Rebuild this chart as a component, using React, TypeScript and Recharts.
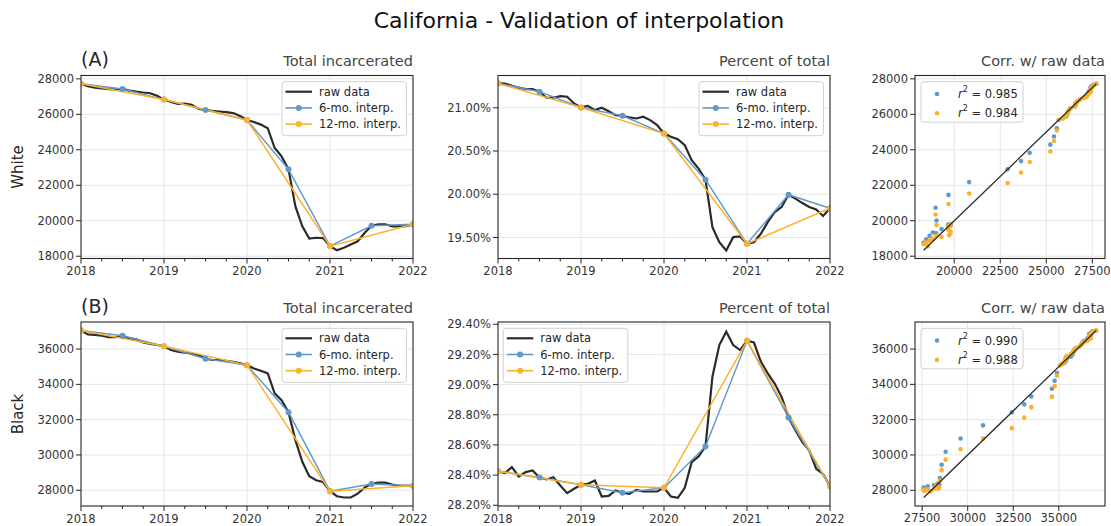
import React from 'react';
import { LineChart, Line, XAxis, YAxis, CartesianGrid, ComposedChart, Scatter } from 'recharts';

const FIG_W = 1111;
const FIG_H = 526;
const YW = 40;
const XH = 10;

const RAW_COLOR = '#2b2b2b';
const C6 = '#6399c9';
const C12 = '#fcb02b';
const FRAME = '#262626';
const GRID = '#e6e6e6';
const TICK_TEXT = '#333333';

// ---------- categories / tick labels ----------
const monthLabels = [
  '2018-01', '2018-02', '2018-03', '2018-04', '2018-05', '2018-06', '2018-07', '2018-08', '2018-09', '2018-10', '2018-11', '2018-12',
  '2019-01', '2019-02', '2019-03', '2019-04', '2019-05', '2019-06', '2019-07', '2019-08', '2019-09', '2019-10', '2019-11', '2019-12',
  '2020-01', '2020-02', '2020-03', '2020-04', '2020-05', '2020-06', '2020-07', '2020-08', '2020-09', '2020-10', '2020-11', '2020-12',
  '2021-01', '2021-02', '2021-03', '2021-04', '2021-05', '2021-06', '2021-07', '2021-08', '2021-09', '2021-10', '2021-11', '2021-12',
  '2022-01',
];
const halfYearLabels = ['2018-01', '2018-07', '2019-01', '2019-07', '2020-01', '2020-07', '2021-01', '2021-07', '2022-01'];
const yearLabels = ['2018-01', '2019-01', '2020-01', '2021-01', '2022-01'];

const timeTicks = [2018, 2018.25, 2018.5, 2018.75, 2019, 2019.25, 2019.5, 2019.75, 2020, 2020.25, 2020.5, 2020.75, 2021, 2021.25, 2021.5, 2021.75, 2022];
const yearGrid = [2019, 2020, 2021];

const whiteTotalTicks = [18000, 20000, 22000, 24000, 26000, 28000];
const whitePctTicks = [19.5, 20.0, 20.5, 21.0];
const whiteCorrXTicks = [20000, 22500, 25000, 27500];
const blackTotalTicks = [28000, 30000, 32000, 34000, 36000];
const blackPctTicks = [28.2, 28.4, 28.6, 28.8, 29.0, 29.2, 29.4];
const blackCorrXTicks = [27500, 30000, 32500, 35000];

// ---------- White: total incarcerated ----------
const whiteRaw = [
  27720, 27580, 27510, 27460, 27420, 27400, 27430, 27340, 27280, 27230, 27190, 27050,
  26830, 26700, 26590, 26600, 26540, 26310, 26240, 26190, 26160, 26120, 26070, 25900,
  25680, 25570, 25420, 25220, 24100, 23630, 22900, 20810, 19690, 18990, 19040, 19020,
  18570, 18340, 18480, 18660, 18840, 19310, 19720, 19790, 19800, 19680, 19680, 19700,
  19800,
];
const white6 = [27720, 27430, 26830, 26240, 25680, 22900, 18570, 19720, 19800];
const white12 = [27720, 26830, 25680, 18570, 19800];
const whiteInterp6 = [
  27720, 27672, 27623, 27575, 27527, 27478, 27430, 27330, 27230, 27130, 27030, 26930,
  26830, 26732, 26633, 26535, 26437, 26338, 26240, 26147, 26053, 25960, 25867, 25773,
  25680, 25217, 24753, 24290, 23827, 23363, 22900, 22178, 21457, 20735, 20013, 19292,
  18570, 18762, 18953, 19145, 19337, 19528, 19720, 19733, 19747, 19760, 19773, 19787,
  19800,
];
const whiteInterp12 = [
  27720, 27646, 27572, 27498, 27423, 27349, 27275, 27201, 27127, 27053, 26978, 26904,
  26830, 26734, 26638, 26543, 26447, 26351, 26255, 26159, 26063, 25968, 25872, 25776,
  25680, 25088, 24495, 23903, 23310, 22718, 22125, 21533, 20940, 20348, 19755, 19163,
  18570, 18673, 18775, 18878, 18980, 19083, 19185, 19288, 19390, 19493, 19595, 19698,
  19800,
];
const whiteFitEnds = [18340, 27720];

// ---------- White: percent of total ----------
const whitePctRaw = [
  21.282, 21.280, 21.255, 21.232, 21.216, 21.216, 21.186, 21.116, 21.116, 21.135, 21.128, 21.050,
  21.004, 21.020, 20.973, 21.000, 20.960, 20.915, 20.908, 20.888, 20.876, 20.896, 20.857, 20.800,
  20.702, 20.664, 20.636, 20.567, 20.393, 20.296, 20.169, 19.620, 19.446, 19.350, 19.504, 19.512,
  19.427, 19.446, 19.543, 19.678, 19.794, 19.852, 19.995, 19.949, 19.898, 19.852, 19.825, 19.748,
  19.838,
];
const whitePct6 = [21.282, 21.186, 21.004, 20.908, 20.702, 20.169, 19.427, 19.995, 19.838];
const whitePct12 = [21.282, 21.004, 20.702, 19.427, 19.838];

// ---------- Black: total incarcerated ----------
const blackRaw = [
  37050, 36830, 36800, 36760, 36670, 36670, 36750, 36610, 36550, 36380, 36290, 36230,
  36160, 35950, 35850, 35790, 35750, 35660, 35450, 35380, 35380, 35340, 35280, 35190,
  35090, 34900, 34770, 34620, 33490, 33100, 32420, 30840, 29610, 28790, 28570, 28470,
  27950, 27660, 27590, 27590, 27810, 28150, 28360, 28430, 28430, 28320, 28250, 28250,
  28260,
];
const black6 = [37050, 36750, 36160, 35450, 35090, 32420, 27950, 28360, 28260];
const black12 = [37050, 36160, 35090, 27950, 28260];
const blackInterp6 = [
  37050, 37000, 36950, 36900, 36850, 36800, 36750, 36652, 36553, 36455, 36357, 36258,
  36160, 36042, 35923, 35805, 35687, 35568, 35450, 35390, 35330, 35270, 35210, 35150,
  35090, 34645, 34200, 33755, 33310, 32865, 32420, 31675, 30930, 30185, 29440, 28695,
  27950, 28018, 28087, 28155, 28223, 28292, 28360, 28343, 28327, 28310, 28293, 28277,
  28260,
];
const blackInterp12 = [
  37050, 36976, 36902, 36828, 36753, 36679, 36605, 36531, 36457, 36383, 36308, 36234,
  36160, 36071, 35982, 35893, 35803, 35714, 35625, 35536, 35447, 35358, 35268, 35179,
  35090, 34495, 33900, 33305, 32710, 32115, 31520, 30925, 30330, 29735, 29140, 28545,
  27950, 27976, 28002, 28028, 28053, 28079, 28105, 28131, 28157, 28183, 28208, 28234,
  28260,
];
const blackFitEnds = [27590, 37050];

// ---------- Black: percent of total ----------
const blackPctRaw = [
  28.426, 28.413, 28.453, 28.391, 28.420, 28.431, 28.384, 28.371, 28.386, 28.331, 28.280, 28.309,
  28.336, 28.342, 28.364, 28.258, 28.262, 28.298, 28.283, 28.275, 28.302, 28.291, 28.291, 28.291,
  28.316, 28.258, 28.249, 28.315, 28.486, 28.524, 28.590, 29.052, 29.262, 29.351, 29.262, 29.229,
  29.291, 29.280, 29.152, 29.074, 29.007, 28.919, 28.782, 28.697, 28.619, 28.564, 28.442, 28.408,
  28.326,
];
const blackPct6 = [28.426, 28.384, 28.336, 28.283, 28.316, 28.590, 29.291, 28.782, 28.326];
const blackPct12 = [28.426, 28.336, 28.316, 29.291, 28.326];

const r2Labels = { white6: '0.985', white12: '0.984', black6: '0.990', black12: '0.988' };

// ---------- helpers ----------
const toYear = (s: string) => parseInt(s.slice(0, 4), 10) + (parseInt(s.slice(5, 7), 10) - 1) / 12;
const series = (labels: string[], values: number[]) => labels.map((l, i) => ({ t: toYear(l), v: values[i] }));
const pairs = (xs: number[], ys: number[]) => xs.map((x, i) => ({ x, y: ys[i] }));

type Rect = { x: number; y: number; w: number; h: number };

const rects: Record<string, Rect> = {
  A1: { x: 81, y: 75.5, w: 332, h: 183 },
  A2: { x: 498, y: 75.5, w: 332, h: 183 },
  A3: { x: 915, y: 75.5, w: 190, h: 183 },
  B1: { x: 81, y: 322, w: 332, h: 184 },
  B2: { x: 498, y: 322, w: 332, h: 184 },
  B3: { x: 915, y: 322, w: 190, h: 184 },
};

const whiteDomain: [number, number] = [17871, 28189];
const blackDomain: [number, number] = [27108, 37534];
const whitePctDomain: [number, number] = [19.257, 21.373];
const blackPctDomain: [number, number] = [28.195, 29.415];

const marginFor = (r: Rect) => ({
  top: r.y,
  left: r.x - YW,
  right: FIG_W - r.x - r.w,
  bottom: FIG_H - r.y - r.h - XH,
});

const renderTimeTick = (props: any) => {
  const { x, y, payload } = props;
  const v = Number(payload.value);
  const major = Math.abs(v - Math.round(v)) < 1e-6;
  return (
    <g>
      <line x1={x} x2={x} y1={y} y2={y + (major ? 5 : 3)} stroke={FRAME} strokeWidth={1} />
      {major ? (
        <text x={x} y={y + 16.5} textAnchor="middle" fontSize={11.5} fill={TICK_TEXT}>
          {Math.round(v)}
        </text>
      ) : null}
    </g>
  );
};

const yTickStyle = { fontSize: 11.5, fill: TICK_TEXT };

function TimePanel(props: {
  rect: Rect;
  domain: [number, number];
  ticks: number[];
  fmt: (v: number) => string;
  raw: { t: number; v: number }[];
  s6: { t: number; v: number }[];
  s12: { t: number; v: number }[];
}) {
  const { rect, domain, ticks, fmt, raw, s6, s12 } = props;
  return (
    <div style={{ position: 'absolute', left: 0, top: 0 }}>
      <LineChart width={FIG_W} height={FIG_H} margin={marginFor(rect)}>
        <CartesianGrid stroke={GRID} strokeWidth={1} verticalValues={yearGrid} horizontalValues={ticks} />
        <XAxis
          dataKey="t"
          type="number"
          domain={[2018, 2022]}
          ticks={timeTicks}
          interval={0}
          tick={renderTimeTick}
          tickLine={false}
          tickSize={0}
          tickMargin={0}
          axisLine={false}
          height={XH}
          allowDataOverflow
        />
        <YAxis
          type="number"
          domain={domain}
          ticks={ticks}
          interval={0}
          tickFormatter={fmt}
          width={YW}
          tickSize={5}
          tickMargin={2}
          tick={yTickStyle}
          tickLine={{ stroke: FRAME }}
          axisLine={false}
          allowDataOverflow
        />
        <Line data={raw} dataKey="v" stroke={RAW_COLOR} strokeWidth={2.2} dot={false} isAnimationActive={false} />
        <Line
          data={s6}
          dataKey="v"
          stroke={C6}
          strokeWidth={1.5}
          dot={{ r: 3, fill: C6, stroke: C6, strokeWidth: 0 }}
          isAnimationActive={false}
        />
        <Line
          data={s12}
          dataKey="v"
          stroke={C12}
          strokeWidth={1.5}
          dot={{ r: 3, fill: C12, stroke: C12, strokeWidth: 0 }}
          isAnimationActive={false}
        />
      </LineChart>
    </div>
  );
}

const dotShape = (color: string) => (p: any) => <circle cx={p.cx} cy={p.cy} r={2.3} fill={color} />;
const emptyShape = () => <g />;

function CorrPanel(props: {
  rect: Rect;
  domain: [number, number];
  xTicks: number[];
  yTicks: number[];
  p6: { x: number; y: number }[];
  p12: { x: number; y: number }[];
  fit: { x: number; y: number }[];
}) {
  const { rect, domain, xTicks, yTicks, p6, p12, fit } = props;
  return (
    <div style={{ position: 'absolute', left: 0, top: 0 }}>
      <ComposedChart width={FIG_W} height={FIG_H} margin={marginFor(rect)}>
        <CartesianGrid stroke={GRID} strokeWidth={1} verticalValues={xTicks} horizontalValues={yTicks} />
        <XAxis
          dataKey="x"
          type="number"
          domain={domain}
          ticks={xTicks}
          interval={0}
          tickSize={5}
          tickMargin={3}
          tick={yTickStyle}
          tickLine={{ stroke: FRAME }}
          axisLine={false}
          height={XH}
          allowDataOverflow
        />
        <YAxis
          dataKey="y"
          type="number"
          domain={domain}
          ticks={yTicks}
          interval={0}
          width={YW}
          tickSize={5}
          tickMargin={2}
          tick={yTickStyle}
          tickLine={{ stroke: FRAME }}
          axisLine={false}
          allowDataOverflow
        />
        <Scatter data={p6} dataKey="y" fill={C6} shape={dotShape(C6)} isAnimationActive={false} />
        <Scatter data={p12} dataKey="y" fill={C12} shape={dotShape(C12)} isAnimationActive={false} />
        <Scatter
          data={fit}
          dataKey="y"
          fill={RAW_COLOR}
          line={{ stroke: RAW_COLOR, strokeWidth: 1.3 }}
          shape={emptyShape}
          isAnimationActive={false}
        />
      </ComposedChart>
    </div>
  );
}

function LineLegend({ x, y, flip }: { x: number; y: number; flip?: boolean }) {
  const rows = [
    { label: 'raw data', color: RAW_COLOR, w: 2.2, dot: false },
    { label: '6-mo. interp.', color: C6, w: 1.6, dot: true },
    { label: '12-mo. interp.', color: C12, w: 1.6, dot: true },
  ];
  return (
    <g>
      <rect x={x} y={y} width={124.5} height={54} rx={3} fill="#ffffff" fillOpacity={0.85} stroke="#d0d0d0" strokeWidth={1} />
      {rows.map((r, i) => {
        const cy = y + 10 + i * 16.2;
        return (
          <g key={r.label}>
            <line x1={x + 3.5} x2={x + 30} y1={cy} y2={cy} stroke={r.color} strokeWidth={r.w} />
            {r.dot ? <circle cx={x + 16.75} cy={cy} r={3} fill={r.color} /> : null}
            <text x={x + 37} y={cy} dominantBaseline="central" fontSize={11.5} fill="#262626">
              {r.label}
            </text>
          </g>
        );
      })}
    </g>
  );
}

function CorrLegend({ x, y, v6, v12 }: { x: number; y: number; v6: string; v12: string }) {
  const rows = [
    { color: C6, val: v6 },
    { color: C12, val: v12 },
  ];
  return (
    <g>
      <rect x={x} y={y} width={102} height={40.5} rx={3} fill="#ffffff" fillOpacity={0.85} stroke="#d0d0d0" strokeWidth={1} />
      {rows.map((r, i) => {
        const cy = y + 12.3 + i * 19.3;
        return (
          <g key={i}>
            <circle cx={x + 16} cy={cy} r={2.3} fill={r.color} />
            <text x={x + 37} y={cy} dominantBaseline="central" fontSize={11.5} fill="#262626">
              <tspan fontStyle="italic">r</tspan>
              <tspan fontSize={8} dy={-5}>2</tspan>
              <tspan dy={5}>{' = ' + r.val}</tspan>
            </text>
          </g>
        );
      })}
    </g>
  );
}

const pct = (v: number) => `${v.toFixed(2)}%`;
const plain = (v: number) => `${v}`;

export default function App() {
  const wRaw = series(monthLabels, whiteRaw);
  const w6 = series(halfYearLabels, white6);
  const w12 = series(yearLabels, white12);
  const wpRaw = series(monthLabels, whitePctRaw);
  const wp6 = series(halfYearLabels, whitePct6);
  const wp12 = series(yearLabels, whitePct12);
  const bRaw = series(monthLabels, blackRaw);
  const b6 = series(halfYearLabels, black6);
  const b12 = series(yearLabels, black12);
  const bpRaw = series(monthLabels, blackPctRaw);
  const bp6 = series(halfYearLabels, blackPct6);
  const bp12 = series(yearLabels, blackPct12);

  const wc6 = pairs(whiteRaw, whiteInterp6);
  const wc12 = pairs(whiteRaw, whiteInterp12);
  const bc6 = pairs(blackRaw, blackInterp6);
  const bc12 = pairs(blackRaw, blackInterp12);
  const wFit = pairs(whiteFitEnds, whiteFitEnds);
  const bFit = pairs(blackFitEnds, blackFitEnds);

  const titleStyle = { fontSize: 14.5, fill: '#454545' };

  return (
    <div
      style={{
        position: 'absolute',
        left: 0,
        top: 0,
        width: FIG_W,
        height: FIG_H,
        background: '#ffffff',
        fontFamily: '"DejaVu Sans", sans-serif',
        overflow: 'hidden',
      }}
    >
      <TimePanel rect={rects.A1} domain={whiteDomain} ticks={whiteTotalTicks} fmt={plain} raw={wRaw} s6={w6} s12={w12} />
      <TimePanel rect={rects.A2} domain={whitePctDomain} ticks={whitePctTicks} fmt={pct} raw={wpRaw} s6={wp6} s12={wp12} />
      <CorrPanel rect={rects.A3} domain={whiteDomain} xTicks={whiteCorrXTicks} yTicks={whiteTotalTicks} p6={wc6} p12={wc12} fit={wFit} />
      <TimePanel rect={rects.B1} domain={blackDomain} ticks={blackTotalTicks} fmt={plain} raw={bRaw} s6={b6} s12={b12} />
      <TimePanel rect={rects.B2} domain={blackPctDomain} ticks={blackPctTicks} fmt={pct} raw={bpRaw} s6={bp6} s12={bp12} />
      <CorrPanel rect={rects.B3} domain={blackDomain} xTicks={blackCorrXTicks} yTicks={blackTotalTicks} p6={bc6} p12={bc12} fit={bFit} />

      <svg width={FIG_W} height={FIG_H} style={{ position: 'absolute', left: 0, top: 0, pointerEvents: 'none' }}>
        {Object.keys(rects).map((k) => {
          const r = rects[k];
          return <rect key={k} x={r.x} y={r.y} width={r.w} height={r.h} fill="none" stroke={FRAME} strokeWidth={1.1} />;
        })}

        <text x={579} y={28} textAnchor="middle" fontSize={22} fill="#111">
          California - Validation of interpolation
        </text>

        <text x={81} y={66} fontSize={19} fill="#262626">(A)</text>
        <text x={413} y={66} textAnchor="end" {...titleStyle}>Total incarcerated</text>
        <text x={830} y={66} textAnchor="end" {...titleStyle}>Percent of total</text>
        <text x={1105} y={66} textAnchor="end" {...titleStyle}>Corr. w/ raw data</text>

        <text x={81} y={313} fontSize={19} fill="#262626">(B)</text>
        <text x={413} y={313} textAnchor="end" {...titleStyle}>Total incarcerated</text>
        <text x={830} y={313} textAnchor="end" {...titleStyle}>Percent of total</text>
        <text x={1105} y={313} textAnchor="end" {...titleStyle}>Corr. w/ raw data</text>

        <text x={18} y={167} transform="rotate(-90 18 167)" textAnchor="middle" dominantBaseline="central" fontSize={15} fill="#262626">
          White
        </text>
        <text x={18} y={414} transform="rotate(-90 18 414)" textAnchor="middle" dominantBaseline="central" fontSize={15} fill="#262626">
          Black
        </text>

        <LineLegend x={282} y={81.7} />
        <LineLegend x={699} y={81.7} />
        <LineLegend x={282} y={328.3} />
        <LineLegend x={503.3} y={328.3} />
        <CorrLegend x={921} y={81.7} v6={r2Labels.white6} v12={r2Labels.white12} />
        <CorrLegend x={921} y={328.3} v6={r2Labels.black6} v12={r2Labels.black12} />
      </svg>
    </div>
  );
}
